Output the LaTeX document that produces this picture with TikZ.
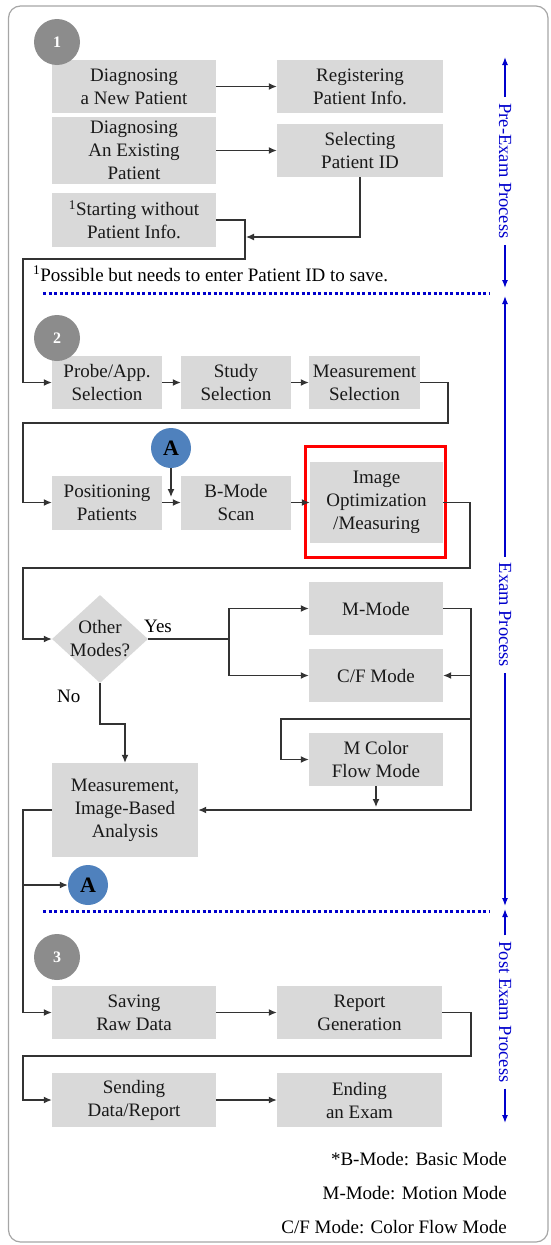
\documentclass[tikz,border=0pt]{standalone}
\usepackage{fontspec}
\setmainfont{Liberation Serif}
\usetikzlibrary{arrows.meta,shapes.geometric}
\definecolor{boxgray}{HTML}{D9D9D9}
\definecolor{numgray}{HTML}{8C8C8C}
\definecolor{ablue}{HTML}{4F81BD}
\definecolor{lblue}{HTML}{0000CC}
\definecolor{lnk}{HTML}{333333}
\definecolor{framec}{HTML}{A6A6A6}
\begin{document}
\begin{tikzpicture}[x=1pt,y=-1pt,
 pbox/.style={fill=boxgray, inner sep=0pt, align=center, text=black!90, font=\fontsize{19}{23}\selectfont},
 arr/.style={draw=lnk, line width=1.3pt, -{Latex[length=8pt,width=7pt]}},
 ln/.style={draw=lnk, line width=1.3pt},
 numc/.style={circle, fill=numgray, minimum size=46pt, inner sep=0pt, text=white, font=\fontsize{16}{16}\selectfont\bfseries},
 acirc/.style={circle, fill=ablue, minimum size=40pt, inner sep=0pt, text=black, font=\fontsize{22}{22}\selectfont\bfseries},
 side/.style={rotate=-90, text=lblue, inner xsep=6pt, inner ysep=0pt, font=\fontsize{18.5}{23}\selectfont},
 sarr/.style={draw=lblue, line width=1.3pt, -{Latex[length=8pt,width=6pt]}},
 dots/.style={draw=lblue, line width=3pt, dash pattern=on 3pt off 2.5pt},
 lbl/.style={font=\fontsize{19}{23}\selectfont, inner sep=0pt},
]
\useasboundingbox (0,0) rectangle (550,1245);
\draw[framec, line width=1.2pt, rounded corners=12pt] (8.5,6) rectangle (548,1242);

% section 1
\node[pbox, minimum width=164pt, minimum height=53pt] (dnew) at (134,86.5) {Diagnosing\\a New Patient};
\node[pbox, minimum width=166pt, minimum height=53pt] (reg) at (360,86.5) {Registering\\Patient Info.};
\node[pbox, minimum width=164pt, minimum height=67pt] (dex) at (134,150.5) {Diagnosing\\An Existing\\Patient};
\node[pbox, minimum width=166pt, minimum height=53pt] (sel) at (360,150.5) {Selecting\\Patient ID};
\node[pbox, minimum width=164pt, minimum height=54pt] (start) at (134,220) {\textsuperscript{1}Starting without\\Patient Info.};
\node[numc] (c1) at (57,42) {1};
\node[lbl, anchor=base west] (fn) at (33,281) {\textsuperscript{1}Possible but needs to enter Patient ID to save.};

% section 2
\node[pbox, minimum width=110pt, minimum height=53pt] (probe) at (107,382.5) {Probe/App.\\Selection};
\node[pbox, minimum width=110pt, minimum height=53pt] (study) at (236,382.5) {Study\\Selection};
\node[pbox, minimum width=111pt, minimum height=53pt] (meas) at (364.5,382.5) {Measurement\\Selection};
\node[numc] (c2) at (57,338) {2};
\node[pbox, minimum width=110pt, minimum height=54pt] (pos) at (107,502.5) {Positioning\\Patients};
\node[pbox, minimum width=110pt, minimum height=54pt] (bmode) at (236,502.5) {B-Mode\\Scan};
\node[pbox, minimum width=133pt, minimum height=81pt] (img) at (376.5,502.5) {Image\\Optimization\\/Measuring};
\node[draw=red, line width=3pt, minimum width=140pt, minimum height=111pt, inner sep=0pt] (redbox) at (375.5,502) {};
\node[acirc] (A1) at (171,448) {A};

\node[diamond, fill=boxgray, minimum width=96pt, minimum height=88pt, inner sep=0pt] (dia) at (100,639) {};
\node[lbl, align=center, text=black!90] (diat) at (dia.center) {Other\\Modes?};
\node[pbox, minimum width=134pt, minimum height=53pt] (mmode) at (376,608.5) {M-Mode};
\node[pbox, minimum width=134pt, minimum height=53pt] (cf) at (376,675.5) {C/F Mode};
\node[pbox, minimum width=134pt, minimum height=53pt] (mcol) at (376,759.5) {M Color\\Flow Mode};
\node[pbox, minimum width=146pt, minimum height=94pt] (meas2) at (125,810) {Measurement,\\Image-Based\\Analysis};
\node[lbl, anchor=base west] (yes) at (144,632) {Yes};
\node[lbl, anchor=base west] (no) at (57,702) {No};
\node[acirc] (A2) at (88,885) {A};

% section 3
\node[pbox, minimum width=164pt, minimum height=53pt] (save) at (134,1012.5) {Saving\\Raw Data};
\node[pbox, minimum width=165pt, minimum height=53pt] (rep) at (359.5,1012.5) {Report\\Generation};
\node[pbox, minimum width=164pt, minimum height=54pt] (send) at (134,1100) {Sending\\Data/Report};
\node[pbox, minimum width=165pt, minimum height=54pt] (endx) at (359.5,1100) {Ending\\an Exam};
\node[numc] (c3) at (57,957) {3};

% legend
\node[lbl, anchor=base east] (l1) at (507,1165) {*B-Mode: Basic Mode};
\node[lbl, anchor=base east] (l2) at (507,1199) {M-Mode: Motion Mode};
\node[lbl, anchor=base east] (l3) at (507,1233) {C/F Mode: Color Flow Mode};

% coordinates
\coordinate (j1) at (246,237);
\coordinate (j2) at (171,497);
\coordinate (j3) at (376,807);
\coordinate (yb) at (229,639);

% connectors
\draw[arr] (dnew.east) -- (reg.west);
\draw[arr] (dex.east) -- (sel.west);
\draw[arr] (sel.south) |- (j1);
\draw[arr] (start.east) -- (245,220) -- (245,259) -- (23,259) |- (probe.west);
\draw[arr] (probe.east) -- (study.west);
\draw[arr] (study.east) -- (meas.west);
\draw[arr] (meas.east) -- (448,382.5) -- (448,423) -- (23,423) |- (pos.west);
\draw[arr] (A1.south) -- (j2);
\draw[arr] (pos.east) -- (bmode.west);
\draw[arr] (bmode.east) -- (img.west);
\draw[arr] (img.east) -- (470,502.5) -- (470,568) -- (23,568) |- (dia.west);
\draw[ln] (dia.east) -- (yb);
\draw[arr] (yb) |- (mmode.west);
\draw[arr] (yb) |- (cf.west);
\draw[arr] (mmode.east) -| (471,810) -- (meas2.east);
\draw[arr] (471,675.5) -- (cf.east);
\draw[arr] (471,719) -- (281,719) |- (mcol.west);
\draw[arr] (mcol.south) -- (j3);
\draw[arr] (dia.south) -- (100,724) -| (meas2.north);
\draw[arr] (meas2.west) -- (23,810) |- (save.west);
\draw[arr] (23,885) -- (A2.west);
\draw[arr] (save.east) -- (rep.west);
\draw[arr] (rep.east) -- (471,1012.5) -- (471,1056) -- (23,1056) |- (send.west);
\draw[arr] (send.east) -- (endx.west);

% dotted separators
\draw[dots] (43,293) -- (490,293);
\draw[dots] (43,911) -- (490,911);

% side labels
\node[side] (pre) at (505,171) {Pre-Exam Process};
\draw[sarr] (pre.west) -- (505,57);
\draw[sarr] (pre.east) -- (505,288);
\node[side] (exam) at (505,615) {Exam Process};
\draw[sarr] (exam.west) -- (505,296);
\draw[sarr] (exam.east) -- (505,906);
\node[side] (post) at (505,1012) {Post Exam Process};
\draw[sarr] (post.west) -- (505,909);
\draw[sarr] (post.east) -- (505,1123);
\end{tikzpicture}
\end{document}
